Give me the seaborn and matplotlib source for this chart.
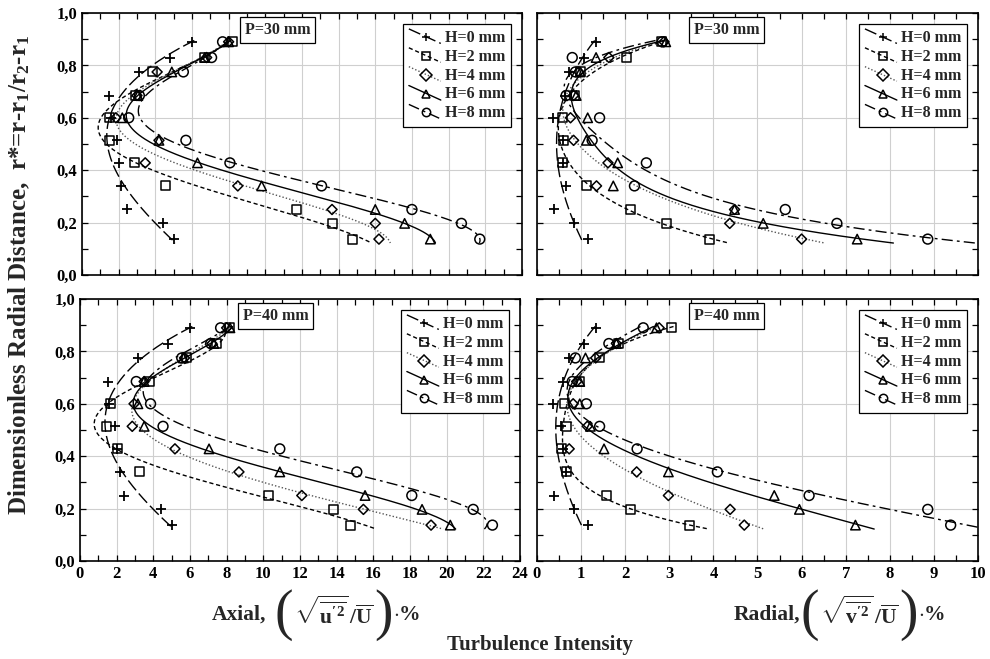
import numpy as np
import matplotlib
matplotlib.use("Agg")
import matplotlib.pyplot as plt
import seaborn as sns
from matplotlib.lines import Line2D
from matplotlib.legend_handler import HandlerLine2D
from matplotlib.ticker import MultipleLocator, FuncFormatter
from matplotlib.transforms import offset_copy

# ---- data: dimensionless radial distance levels and turbulence intensities ----
r_star = [0.89, 0.83, 0.775, 0.685, 0.60, 0.514, 0.428, 0.34, 0.25, 0.197, 0.137]
heights = ["H=0 mm", "H=2 mm", "H=4 mm", "H=6 mm", "H=8 mm"]

# Axial turbulence intensity, P=30 mm
axial_p30_h0 = [6.0, 4.8, 3.13, 1.49, 1.6, 1.9, 2.04, 2.13, 2.44, 4.4, 5.04]
axial_p30_h2 = [8.2, 6.7, 3.85, 2.9, 1.49, 1.49, 2.85, 4.58, 11.7, 13.64, 14.77]
axial_p30_h4 = [8.0, 6.8, 4.1, 3.0, 1.85, 4.2, 3.45, 8.5, 13.64, 16.0, 16.2]
axial_p30_h6 = [8.0, 6.7, 4.9, 3.05, 2.2, 4.2, 6.3, 9.8, 16.0, 17.6, 19.0]
axial_p30_h8 = [7.67, 7.07, 5.53, 3.13, 2.55, 5.67, 8.07, 13.07, 18.0, 20.7, 21.7]

# Axial turbulence intensity, P=40 mm
axial_p40_h0 = [6.0, 4.8, 3.16, 1.55, 1.6, 1.89, 2.0, 2.18, 2.4, 4.4, 5.04]
axial_p40_h2 = [8.13, 7.42, 5.82, 3.78, 1.67, 1.44, 2.04, 3.27, 10.3, 13.82, 14.78]
axial_p40_h4 = [8.0, 7.2, 5.7, 3.5, 2.95, 2.85, 5.18, 8.67, 12.1, 15.46, 19.15]
axial_p40_h6 = [8.18, 7.3, 5.64, 3.5, 3.16, 3.5, 7.04, 10.9, 15.55, 18.66, 20.2]
axial_p40_h8 = [7.67, 7.13, 5.55, 3.07, 3.85, 4.53, 10.9, 15.1, 18.1, 21.45, 22.5]

# Radial turbulence intensity, P=30 mm
radial_p30_h0 = [1.34, 1.06, 0.72, 0.63, 0.36, 0.6, 0.6, 0.66, 0.38, 0.83, 1.15]
radial_p30_h2 = [2.82, 2.03, 0.98, 0.86, 0.57, 0.6, 0.57, 1.12, 2.12, 2.94, 3.91]
radial_p30_h4 = [2.88, 1.63, 0.95, 0.83, 0.76, 0.83, 1.61, 1.35, 4.48, 4.37, 6.0]
radial_p30_h6 = [2.92, 1.34, 0.98, 0.89, 1.15, 1.12, 1.83, 1.73, 4.48, 5.13, 7.26]
radial_p30_h8 = [2.84, 0.8, 0.87, 0.66, 1.42, 1.25, 2.48, 2.21, 5.63, 6.8, 8.86]

# Radial turbulence intensity, P=40 mm
radial_p40_h0 = [1.34, 1.06, 0.72, 0.59, 0.36, 0.55, 0.6, 0.66, 0.38, 0.83, 1.15]
radial_p40_h2 = [3.05, 1.85, 1.42, 0.97, 0.63, 0.66, 0.55, 0.68, 1.57, 2.12, 3.45]
radial_p40_h4 = [2.77, 1.8, 1.33, 0.9, 0.82, 1.14, 0.73, 2.26, 2.98, 4.38, 4.7]
radial_p40_h6 = [2.71, 1.8, 1.1, 0.97, 0.97, 1.21, 1.52, 2.98, 5.38, 5.95, 7.22]
radial_p40_h8 = [2.41, 1.63, 0.87, 0.8, 1.12, 1.42, 2.27, 4.09, 6.17, 8.86, 9.38]

panels = [
    ("P=30 mm", "axial", [axial_p30_h0, axial_p30_h2, axial_p30_h4, axial_p30_h6, axial_p30_h8]),
    ("P=30 mm", "radial", [radial_p30_h0, radial_p30_h2, radial_p30_h4, radial_p30_h6, radial_p30_h8]),
    ("P=40 mm", "axial", [axial_p40_h0, axial_p40_h2, axial_p40_h4, axial_p40_h6, axial_p40_h8]),
    ("P=40 mm", "radial", [radial_p40_h0, radial_p40_h2, radial_p40_h4, radial_p40_h6, radial_p40_h8]),
]

# ---- styling ----
sns.set_theme(style="ticks")
plt.rcParams["font.family"] = ["Liberation Serif", "DejaVu Serif"]
plt.rcParams["font.weight"] = "bold"
plt.rcParams["mathtext.fontset"] = "custom"
plt.rcParams["mathtext.rm"] = "Liberation Serif:bold"
plt.rcParams["mathtext.it"] = "Liberation Serif:bold"
plt.rcParams["mathtext.bf"] = "Liberation Serif:bold"

markers = ["+", "s", "D", "^", "o"]
marker_sizes = [60, 42, 26, 46, 50]
line_styles = [(0, (9, 3)), (0, (3, 2)), (0, (1, 1.5)), "-", (0, (8, 3, 2, 3))]
line_colors = ["black", "black", "#555555", "black", "black"]
fit_degree = [3, 4, 4, 4, 4]


class SlantedHandler(HandlerLine2D):
    """Legend key with the line drawn diagonally through the marker."""

    def create_artists(self, legend, orig_handle, xdescent, ydescent,
                       width, height, fontsize, trans):
        x0, x1 = -xdescent, -xdescent + width
        y0, y1 = -ydescent + height * 1.15, -ydescent - height * 0.15
        line = Line2D([x0, x1], [y0, y1])
        self.update_prop(line, orig_handle, legend)
        line.set_marker("None")
        mk = Line2D([x0 + 0.55 * width], [y0 + 0.55 * (y1 - y0)])
        self.update_prop(mk, orig_handle, legend)
        mk.set_linestyle("None")
        line.set_transform(trans)
        mk.set_transform(trans)
        return [line, mk]


fig = plt.figure(figsize=(9.9, 6.59), dpi=100)
positions = [
    [0.0828, 0.5827, 0.4444, 0.3976],
    [0.5424, 0.5827, 0.4455, 0.3976],
    [0.0808, 0.1487, 0.4444, 0.3976],
    [0.5424, 0.1487, 0.4455, 0.3976],
]

for idx, (pos, (ptext, kind, series)) in enumerate(zip(positions, panels)):
    ax = fig.add_axes(pos)
    y = np.array(r_star)
    handles = []
    for k, (vals, lab) in enumerate(zip(series, heights)):
        x = np.array(vals)
        coef = np.polyfit(y, x, fit_degree[k])
        yy = np.linspace(y.max() + 0.005, y.min() - 0.015, 200)
        xx = np.polyval(coef, yy)
        sns.lineplot(x=xx, y=yy, sort=False, estimator=None, ax=ax,
                     color=line_colors[k], linestyle=line_styles[k], linewidth=1.0)
        if markers[k] == "+":
            sns.scatterplot(x=x, y=y, marker="+", s=marker_sizes[k], color="black",
                            linewidth=1.3, ax=ax, zorder=3)
        else:
            sns.scatterplot(x=x, y=y, marker=markers[k], s=marker_sizes[k], color="none",
                            edgecolor="black", linewidth=1.1, ax=ax, zorder=3)
        handles.append(Line2D([], [], color=line_colors[k], linestyle=line_styles[k],
                              linewidth=1.0, marker=markers[k], markersize=6,
                              markerfacecolor="none", markeredgecolor="black",
                              markeredgewidth=1.1, label=lab))

    if kind == "axial":
        ax.set_xlim(0, 24)
        ax.xaxis.set_major_locator(MultipleLocator(2))
        ax.xaxis.set_minor_locator(MultipleLocator(1))
    else:
        ax.set_xlim(0, 10)
        ax.xaxis.set_major_locator(MultipleLocator(1))
        ax.xaxis.set_minor_locator(MultipleLocator(0.5))
    ax.set_ylim(0, 1.0)
    ax.yaxis.set_major_locator(MultipleLocator(0.2))
    ax.yaxis.set_minor_locator(MultipleLocator(0.1))
    ax.grid(True, which="major", color="#cfcfcf", linewidth=0.8)
    ax.set_axisbelow(True)
    ax.tick_params(which="both", direction="in", top=True, right=True,
                   length=4, width=0.9, colors="black", labelsize=12)
    for sp in ax.spines.values():
        sp.set_color("black")
        sp.set_linewidth(1.2)
    ax.set_xlabel("")
    ax.set_ylabel("")

    if kind == "axial":
        ax.yaxis.set_major_formatter(FuncFormatter(lambda v, p: f"{v:.1f}".replace(".", ",")))
    else:
        ax.tick_params(labelleft=False)
    if idx < 2:
        ax.tick_params(labelbottom=False)
    for lbl in ax.get_xticklabels() + ax.get_yticklabels():
        lbl.set_fontweight("bold")

    ax.text(0.37 if kind == "axial" else 0.355, 0.965, ptext, transform=ax.transAxes,
            ha="left", va="top", fontsize=11.5, fontweight="bold",
            bbox=dict(boxstyle="square,pad=0.3", fc="white", ec="black", lw=0.9))

    leg = ax.legend(handles=handles, loc="upper right", fontsize=11.5,
                    handler_map={Line2D: SlantedHandler()},
                    frameon=True, fancybox=False, framealpha=1, edgecolor="black",
                    borderaxespad=0.7, handlelength=2.0, handletextpad=0.25,
                    labelspacing=0.18, borderpad=0.35)
    leg.get_frame().set_linewidth(0.9)
    for t in leg.get_texts():
        t.set_fontweight("bold")

fig.text(0.02, 0.583, r"Dimensionless Radial Distance,  r*=r-r$_1$/r$_2$-r$_1$",
         rotation=90, ha="center", va="center", fontsize=18, fontweight="bold")


def chained_label(x_px, y_frac, pieces):
    """Place text pieces one after another on a baseline, left to right."""
    renderer = fig.canvas.get_renderer()
    x = x_px
    for txt, size, weight, dx, dy in pieces:
        t = fig.text(0, 0, txt, fontsize=size, fontweight=weight, ha="left", va="center",
                     transform=offset_copy(fig.transFigure, fig=fig, x=(x + dx) * 0.72,
                                           y=dy * 0.72, units="points"))
        t.set_position((0, y_frac))
        bb = t.get_window_extent(renderer)
        x = x + dx + bb.width


axial_inner = r"$\sqrt{\overline{\mathrm{u}^{\prime 2}}}\,/\overline{\mathrm{U}}$"
radial_inner = r"$\sqrt{\overline{\mathrm{v}^{\prime 2}}}\,/\overline{\mathrm{U}}$"

chained_label(212, 0.067, [("Axial,", 15.5, "bold", 0, 0),
                           ("(", 40, "normal", 8, 0),
                           (axial_inner, 15.5, "bold", 1, 2),
                           (")", 40, "normal", 1, 0),
                           (r"$\cdot$%", 15.5, "bold", 0, 0)])
chained_label(734, 0.067, [("Radial,", 15.5, "bold", 0, 0),
                           ("(", 40, "normal", 0, 0),
                           (radial_inner, 15.5, "bold", 1, 2),
                           (")", 40, "normal", 1, 0),
                           (r"$\cdot$%", 15.5, "bold", 0, 0)])
fig.text(0.545, 0.022, "Turbulence Intensity", ha="center", va="center",
         fontsize=15, fontweight="bold")

fig.savefig("out.png", dpi=100)
